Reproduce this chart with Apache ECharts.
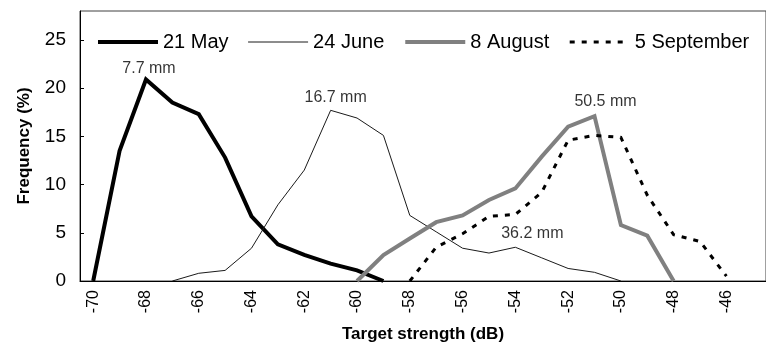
<!DOCTYPE html>
<html><head><meta charset="utf-8">
<script src="https://cdn.jsdelivr.net/npm/echarts@6/dist/echarts.min.js"></script>
<style>html,body{margin:0;padding:0;background:#fff}#c{width:766px;height:356px}</style>
</head><body><div id="c"></div>
<script>
const categories = ['-70','-69','-68','-67','-66','-65','-64','-63','-62','-61','-60','-59','-58','-57','-56','-55','-54','-53','-52','-51','-50','-49','-48','-47','-46','-45'];
const yTicks = [0, 5, 10, 15, 20, 25];
const seriesNames = ['21 May', '24 June', '8 August', '5 September'];
const tsMay = [-70,-69,-68,-67,-66,-65,-64,-63,-62,-61,-60,-59];
const freqMay = [0,13.5,20.9,18.5,17.3,12.8,6.7,3.8,2.7,1.8,1.1,0];
const tsJune = [-67,-66,-65,-64,-63,-62,-61,-60,-59,-58,-57,-56,-55,-54,-53,-52,-51,-50];
const freqJune = [0,0.8,1.1,3.4,7.9,11.5,17.7,16.9,15.1,6.8,5.1,3.4,2.9,3.5,2.4,1.3,0.9,0];
const tsAug = [-60,-59,-58,-57,-56,-55,-54,-53,-52,-51,-50,-49,-48];
const freqAug = [0,2.7,4.4,6.1,6.8,8.4,9.6,12.9,16.0,17.1,5.8,4.7,0];
const tsSep = [-58,-57,-56,-55,-54,-53,-52,-51,-50,-49,-48,-47,-46];
const freqSep = [0,3.5,4.9,6.7,6.9,9.2,14.6,15.1,14.9,8.9,4.8,4.1,0.5];
const annotText = ['7.7 mm', '16.7 mm', '50.5 mm', '36.2 mm'];
const annotTS = [-68, -61, -51, -54];
const annotFreq = [20.9, 17.7, 17.1, 3.5];
const annotOffset = [[3,2],[5,0],[11,-2],[17,-1]];

const tsAll = [tsMay, tsJune, tsAug, tsSep];
const freqAll = [freqMay, freqJune, freqAug, freqSep];
const styles = [
  {color:'#000', width:4, type:'solid'},
  {color:'#1a1a1a', width:1, type:'solid'},
  {color:'#808080', width:4, type:'solid'},
  {color:'#000', width:3, type:[5,7]}
];
const FONT = 'Liberation Sans, Arial, sans-serif';

const series = seriesNames.map((name, s) => ({
  name, type: 'line',
  data: tsAll[s].map((t, i) => [String(t), freqAll[s][i]]),
  showSymbol: false, symbol: 'none',
  lineStyle: {color: styles[s].color, width: styles[s].width, type: styles[s].type, cap: 'butt', join: 'miter'},
  itemStyle: {color: styles[s].color},
  animation: false, z: 2 + s
}));
series.push({
  name: 'annotations', type: 'scatter', symbolSize: 0, silent: true, z: 10,
  data: annotText.map((txt, k) => ({
    value: [String(annotTS[k]), annotFreq[k]],
    label: {show: true, position: 'top', distance: 5, formatter: txt, offset: annotOffset[k],
      fontSize: 16, color: '#000', fontFamily: FONT}
  }))
});

const chart = echarts.init(document.getElementById('c'), null, {renderer: 'canvas'});
chart.setOption({
  animation: false,
  backgroundColor: '#fff',
  grid: {left: 80, top: 11, right: -4, bottom: 75, show: true, borderColor: '#404040', borderWidth: 1, containLabel: false},
  legend: {
    data: seriesNames.map((n, s) => ({
      name: n,
      itemStyle: {opacity: 0, borderWidth: 0},
      lineStyle: {color: styles[s].color, width: styles[s].width, type: styles[s].type, opacity: 1}
    })),
    left: 96, top: 32, padding: 0, itemWidth: 60, itemHeight: 14, itemGap: 19,
    textStyle: {fontSize: 20, color: '#000', fontFamily: FONT}
  },
  xAxis: {
    type: 'category', data: categories, boundaryGap: true,
    name: 'Target strength (dB)', nameLocation: 'middle', nameGap: 45,
    nameTextStyle: {fontSize: 17, fontWeight: 'bold', color: '#000', fontFamily: FONT},
    axisLine: {lineStyle: {color: '#000', width: 1}},
    axisTick: {inside: true, length: 6, interval: 0, lineStyle: {color: '#000'}},
    axisLabel: {interval: 1, rotate: 90, fontSize: 16, color: '#000', margin: 9, fontFamily: FONT},
    splitLine: {show: false}
  },
  yAxis: {
    type: 'value', min: 0, max: 28, interval: 5,
    name: 'Frequency (%)', nameLocation: 'middle', nameGap: 47,
    nameTextStyle: {fontSize: 17, fontWeight: 'bold', color: '#000', fontFamily: FONT},
    axisLine: {show: true, lineStyle: {color: '#000', width: 1}},
    axisTick: {show: true, inside: true, length: 4, customValues: yTicks, lineStyle: {color: '#000'}},
    axisLabel: {customValues: yTicks, fontSize: 19, color: '#000', margin: 14, fontFamily: FONT},
    splitLine: {show: false}
  },
  series
});
</script>
</body></html>
